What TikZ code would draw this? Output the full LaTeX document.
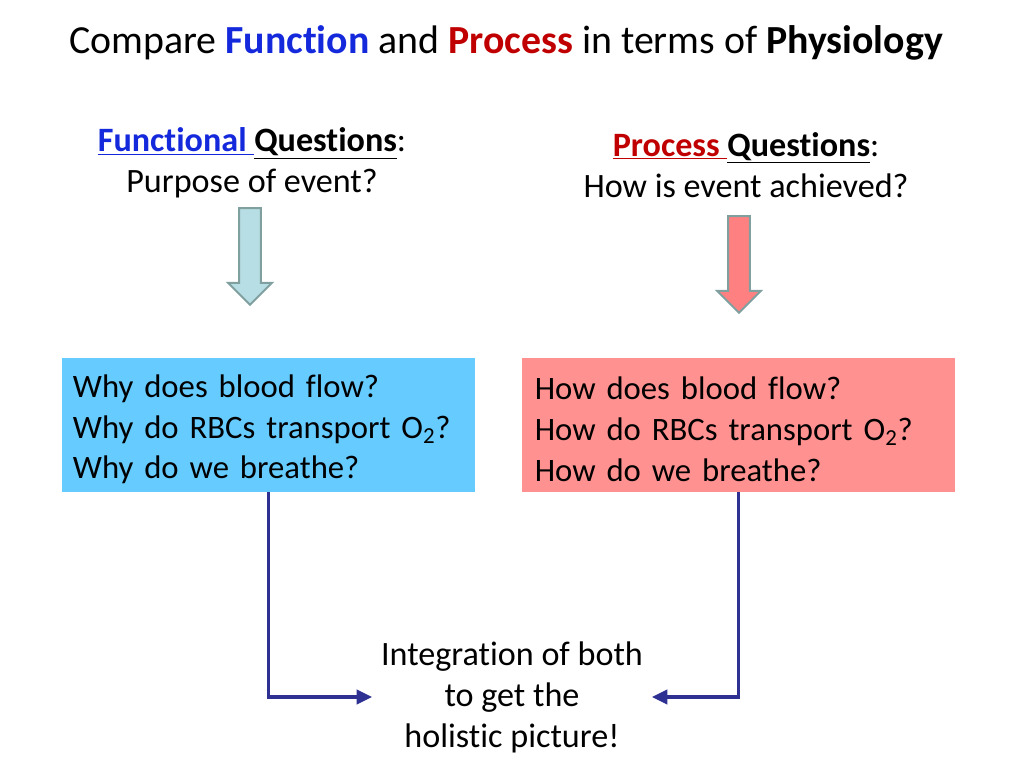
\documentclass[tikz,border=0pt]{standalone}
\usepackage{fontspec}
\setmainfont{Carlito}[Ligatures=NoCommon]
\usepackage{xcolor}
\usetikzlibrary{arrows.meta}
\usetikzlibrary{shapes.arrows}

\definecolor{fblue}{RGB}{20,40,220}
\definecolor{pred}{RGB}{192,0,0}
\definecolor{fboxfill}{RGB}{102,204,255}
\definecolor{pboxfill}{RGB}{255,145,145}
\definecolor{farrfill}{RGB}{183,222,228}
\definecolor{parrfill}{RGB}{255,128,128}
\definecolor{arredge}{RGB}{128,160,160}
\definecolor{connblue}{RGB}{46,49,146}

\tikzset{
  bigtext/.style={font=\fontsize{23}{28.8}\selectfont},
  headtext/.style={font=\fontsize{24}{28.8}\selectfont, align=center},
  qbox/.style={bigtext, align=left, minimum height=94pt, inner sep=0pt},
  downarrow/.style={single arrow, draw=arredge, line width=1.4pt,
    single arrow head extend=7.7pt, single arrow tip angle=90,
    minimum height=68pt, inner sep=7pt, rotate=-90},
  conn/.style={draw=connblue, line width=2.6pt,
    -{Triangle[length=11pt,width=10pt]}},
}

\begin{document}
\begin{tikzpicture}[x=0.703125pt,y=-0.703125pt]
  \useasboundingbox (0,0) rectangle (1024,768);

  \node (ttl) [font=\fontsize{28}{33}\selectfont] at (506,43)
    {Compare \textbf{\textcolor{fblue}{Function}} and
     \textbf{\textcolor{pred}{Process}} in terms of \textbf{Physiology}};

  \node (fq) [headtext] at (252,163)
    {\textcolor{fblue}{\underline{\textbf{Functional }}}\underline{\textbf{Questions}}:\\
     Purpose of event?};
  \node (pq) [headtext] at (746,165)
    {\textcolor{pred}{\underline{\textbf{Process }}}\underline{\textbf{Questions}}:\\
     How is event achieved?};

  \node (fa) [downarrow, fill=farrfill] at (250,251) {};
  \node (pa) [downarrow, fill=parrfill] at (739,259) {};

  \node (fb) [qbox, fill=fboxfill, minimum width=290.4pt,
    text width=275pt] at (268.5,425)
    {\rule{0pt}{22pt}Why does blood flow?\\
     Why do RBCs transport O\textsubscript{2}?\\
     Why do we breathe?};
  \node (pb) [qbox, fill=pboxfill, minimum width=304.5pt,
    text width=286.5pt] at (738.5,425)
    {\rule{0pt}{22pt}How does blood flow?\\
     How do RBCs transport O\textsubscript{2}?\\
     How do we breathe?};

  \node (int) [font=\fontsize{24}{28.8}\selectfont, align=center,
    inner xsep=6pt] at (512,697)
    {Integration of both\\ to get the\\ holistic picture!};

  \draw[conn] (fb.south) |- (int.west);
  \draw[conn] (pb.south) |- (int.east);
\end{tikzpicture}
\end{document}
